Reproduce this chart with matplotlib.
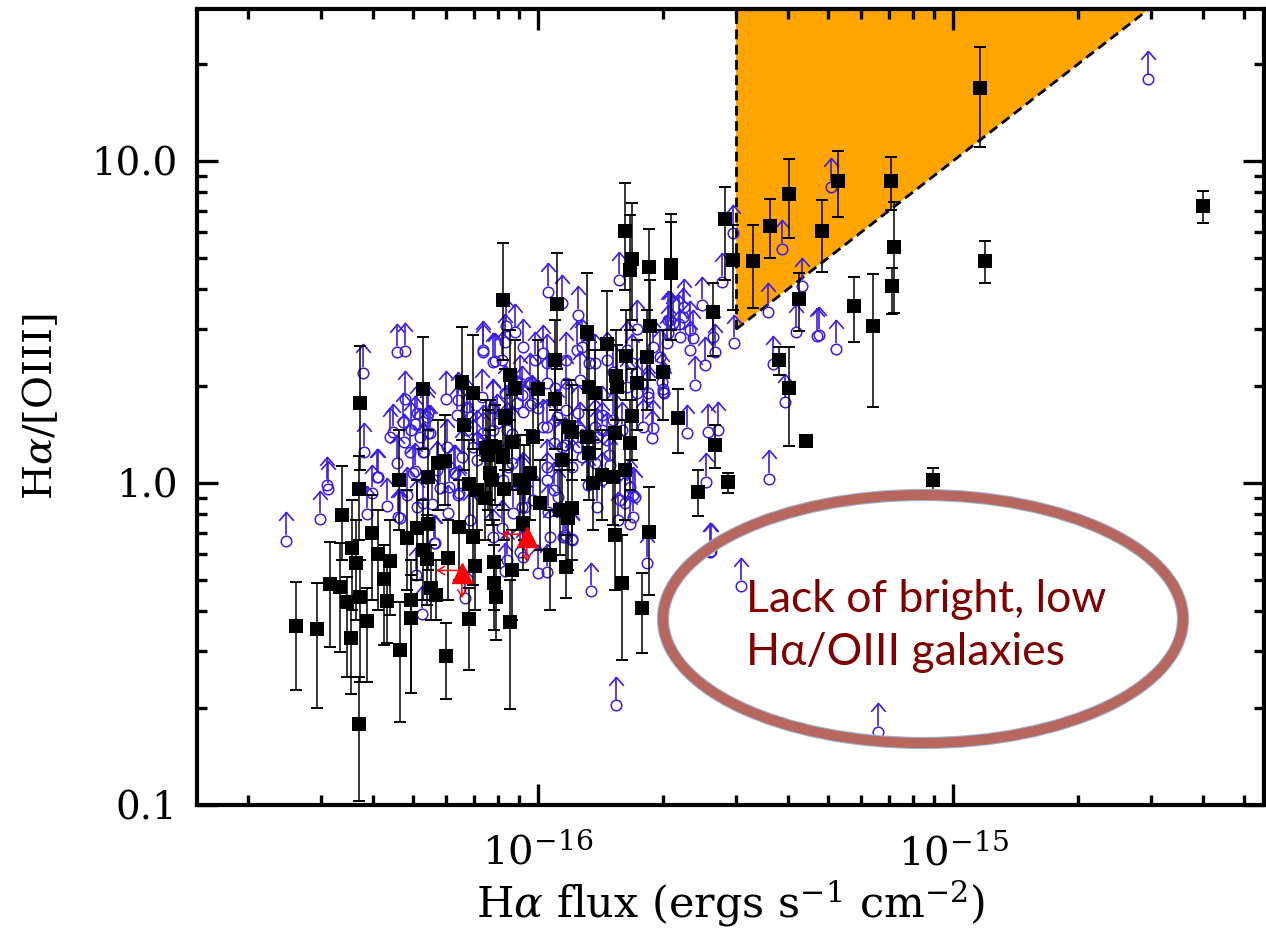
import numpy as np
import matplotlib
matplotlib.use("Agg")
import matplotlib.pyplot as plt
from matplotlib.path import Path
from matplotlib.patches import Ellipse
from matplotlib.ticker import FixedLocator, NullFormatter

plt.rcParams['font.family'] = ['DejaVu Serif']
plt.rcParams['mathtext.fontset'] = 'dejavuserif'

UNIT = 1e-16  # flux values below are in units of 1e-16 ergs/s/cm^2

# ---- detections (black squares with error bars) ----
sq_flux = [0.261, 0.293, 0.315, 0.333, 0.346, 0.373, 0.354, 0.371, 0.388, 0.399,
           0.356, 0.364, 0.412, 0.425, 0.433, 0.440, 0.465, 0.496, 0.494, 0.484,
           0.511, 0.528, 0.540, 0.552, 0.568, 0.600, 0.607, 0.645, 0.699, 0.684,
           0.706, 0.373, 0.371, 0.337, 0.528, 0.463, 0.543, 0.574, 0.597, 0.656,
           0.699, 0.663, 0.684, 0.543,
           0.824, 1.11, 1.31, 1.47, 1.62, 1.68, 1.67, 1.85, 2.09, 2.09,
           1.86, 1.63, 1.83, 2.00, 1.73, 1.10, 0.856, 0.880, 1.00, 1.33,
           1.37, 1.54, 1.55, 1.10, 0.833, 0.766, 0.788, 0.865, 0.973, 0.713,
           0.750, 0.758, 0.824, 0.766, 0.775, 0.829, 0.905, 0.956, 0.925, 1.01,
           1.14, 1.19, 1.21, 1.31, 1.33, 1.53, 1.67, 1.36, 1.43, 1.52,
           1.62, 1.13, 1.21, 1.18, 1.53, 1.85, 0.920, 2.17, 2.67, 2.87,
           2.43, 1.68, 1.07, 1.17, 0.783, 0.865, 0.783, 0.792, 1.59, 1.78,
           0.856, 0.745,
           2.64, 2.82, 2.95, 3.30, 3.62, 4.02, 4.83, 5.28, 7.10, 7.21,
           7.14, 4.25, 5.77, 6.42, 11.6, 11.9, 40.0, 3.81, 4.02, 4.42, 8.94]
sq_ratio = [0.360, 0.352, 0.486, 0.476, 0.427, 0.443, 0.331, 0.178, 0.372, 0.700,
            0.628, 0.565, 0.602, 0.503, 0.430, 0.573, 0.303, 0.433, 0.381, 0.675,
            0.725, 0.619, 0.581, 0.472, 0.449, 0.290, 0.585, 0.730, 0.680, 0.378,
            0.552, 1.77, 0.958, 0.796, 1.96, 1.02, 1.04, 1.15, 1.17, 2.06,
            1.90, 1.51, 0.993, 0.746,
            3.70, 3.60, 2.94, 2.70, 6.06, 4.97, 4.59, 4.69, 4.76, 4.49,
            3.07, 2.48, 2.46, 2.21, 2.04, 2.41, 2.16, 1.97, 1.96, 1.99,
            1.90, 2.15, 1.99, 1.82, 1.59, 1.29, 1.29, 1.34, 1.39, 0.951,
            1.28, 1.22, 1.20, 1.07, 1.02, 0.958, 1.02, 1.07, 0.965, 0.866,
            1.18, 1.49, 1.44, 1.39, 1.24, 1.43, 1.33, 1.00, 1.06, 1.04,
            1.10, 0.824, 0.837, 0.779, 0.690, 0.705, 0.751, 1.59, 1.31, 1.01,
            0.937, 1.61, 0.598, 0.549, 0.569, 0.537, 0.489, 0.443, 0.489, 0.409,
            0.370, 0.898,
            3.40, 6.61, 4.93, 4.89, 6.27, 7.90, 6.06, 8.66, 8.66, 5.41,
            4.09, 3.73, 3.54, 3.07, 16.8, 4.89, 7.25, 2.41, 1.97, 1.35, 1.02]
sq_hi = [0.493, 0.490, 0.656, 0.651, 0.511, 0.577, 0.433, 0.250, 0.472, 0.918,
         0.885, 0.767, 0.824, 0.642, 0.577, 0.767, 0.427, 0.577, 0.518, 0.951,
         1.02, 0.885, 0.795, 0.642, 0.577, 0.367, 0.767, 1.02, 0.951, 0.472,
         0.715, 2.66, 1.21, 1.13, 2.84, 1.46, 1.46, 1.57, 1.63, 3.05,
         2.88, 1.95, 1.36, 1.02,
         5.55, 5.17, 4.49, 3.94, 8.54, 7.41, 6.79, 6.15, 6.84, 6.46,
         4.27, 3.45, 3.45, 2.99, 2.78, 3.21, 2.99, 2.78, 2.78, 2.78,
         2.59, 2.99, 2.68, 2.41, 2.25, 1.81, 1.75, 1.88, 1.95, 1.27,
         1.81, 1.69, 1.69, 1.46, 1.36, 1.27, 1.41, 1.46, 1.31, 1.18,
         1.57, 2.09, 2.02, 1.95, 1.69, 1.95, 1.81, 1.36, 1.46, 1.46,
         1.57, 1.10, 1.18, 1.10, 1.02, 0.972, 1.02, 1.96, 1.51, 1.07,
         1.10, 2.25, 0.824, 0.690, 0.767, 0.715, 0.642, 0.577, 0.690, 0.525,
         0.500, 1.18,
         4.17, 8.32, 6.32, 6.32, 7.63, 10.1, 7.57, 10.7, 10.3, 7.45,
         4.66, 4.49, 4.36, 4.46, 22.6, 5.65, 8.07, 2.64, 2.64, 1.40, 1.11]
sq_lo = [0.228, 0.200, 0.310, 0.298, 0.250, 0.241, 0.221, 0.103, 0.241, 0.433,
         0.404, 0.375, 0.404, 0.314, 0.319, 0.389, 0.181, 0.223, 0.223, 0.466,
         0.500, 0.433, 0.418, 0.375, 0.375, 0.213, 0.433, 0.500, 0.483, 0.263,
         0.404, 1.10, 0.665, 0.577, 1.27, 0.715, 0.741, 0.824, 0.855, 1.36,
         1.27, 1.10, 0.715, 0.537,
         2.41, 2.25, 1.95, 1.81, 3.98, 3.21, 2.99, 3.21, 2.99, 2.78,
         2.09, 1.81, 1.69, 1.57, 1.46, 1.69, 1.57, 1.36, 1.36, 1.36,
         1.27, 1.57, 1.41, 1.27, 1.10, 0.885, 0.855, 0.951, 1.02, 0.715,
         0.885, 0.824, 0.824, 0.767, 0.741, 0.665, 0.715, 0.767, 0.665, 0.619,
         0.824, 1.10, 1.02, 1.02, 0.885, 1.02, 0.951, 0.715, 0.767, 0.741,
         0.767, 0.598, 0.577, 0.537, 0.466, 0.449, 0.537, 1.24, 1.11, 0.931,
         0.790, 1.18, 0.404, 0.440, 0.404, 0.375, 0.350, 0.326, 0.282, 0.296,
         0.199, 0.665,
         2.48, 4.27, 3.45, 3.50, 5.00, 5.77, 4.52, 6.70, 7.04, 3.37,
         3.35, 2.96, 2.74, 1.72, 11.0, 4.17, 6.42, 2.16, 1.30, 1.30, 0.931]

# ---- lower limits (blue open circles with upward arrows) ----
lim_flux = [0.247, 0.298, 0.310, 0.313, 0.379, 0.457, 0.478, 0.478, 0.381, 0.412,
            0.388, 0.433, 0.447, 0.457, 0.476, 0.465, 0.505, 0.519, 0.528, 0.540,
            0.600, 0.642, 0.674, 0.737, 0.627, 0.642, 0.581, 0.555, 0.505, 0.562,
            0.837, 0.880, 1.03, 1.25, 1.17, 1.73, 2.08, 2.06, 2.01, 1.79,
            1.89, 1.88, 0.733, 0.779, 0.819, 0.967, 1.00, 1.03, 0.543, 0.500,
            0.610, 0.645, 0.713, 0.779, 0.842, 0.865, 0.847, 1.05, 1.09, 1.14,
            1.21, 1.25, 1.39, 1.49, 1.67, 1.69, 1.58, 1.56, 1.69, 1.39, 1.15,
            1.06, 1.14, 1.57, 0.737, 0.788, 2.49, 2.78, 2.95, 2.25, 2.19,
            2.32, 2.36, 2.52, 2.67, 2.97, 3.58, 2.12, 1.99, 2.00, 1.84,
            2.39, 1.28, 1.37, 1.52, 1.68, 1.10, 0.956,
            2.29, 2.57, 2.71, 3.60, 2.54, 1.83, 1.67, 1.62, 1.34, 1.21,
            1.16, 1.05, 1.00, 0.833, 2.59, 3.09, 1.71, 1.28, 1.12, 1.06,
            0.914, 0.870, 0.819, 1.32, 1.48, 1.43, 1.26, 0.667, 1.54, 0.905,
            0.525, 0.508, 1.21, 6.59, 5.23, 3.68, 3.94, 4.70, 29.5, 5.08,
            3.87, 4.32, 4.18, 4.74, 2.61,
            0.473, 0.496, 0.549, 0.491, 0.532, 0.409, 0.399, 0.460, 0.484, 0.528,
            0.571, 0.603, 0.630, 0.699, 0.674, 0.737, 0.713, 0.779, 0.842, 0.890,
            0.914, 0.824, 0.865, 0.914, 0.930, 0.565, 0.440, 0.511, 0.543, 0.638,
            0.686, 0.737, 0.656, 0.607, 0.686, 0.511,
            0.779, 0.833, 0.920, 0.956, 1.05, 1.09, 1.16, 1.11, 1.17, 1.25,
            1.37, 1.43, 1.47, 1.52, 1.37, 1.43, 1.59, 1.73, 1.84, 2.00,
            1.78, 0.796, 0.920, 1.05, 0.973, 1.07, 1.17, 0.920, 0.779, 0.842,
            0.833, 0.920, 0.984, 1.05, 1.24, 1.33, 1.47, 1.64, 1.89, 2.04,
            2.20, 2.32, 2.06, 2.24, 2.64, 1.97, 1.05, 1.17, 0.905, 1.26, 1.64]
lim_ratio = [0.661, 0.773, 0.986, 0.958, 2.20, 2.55, 2.57, 1.82, 1.25, 1.04,
             0.801, 0.848, 1.44, 1.15, 1.34, 0.779, 1.52, 1.39, 1.25, 1.60,
             1.82, 1.81, 1.72, 2.55, 1.07, 0.918, 0.965, 0.860, 1.09, 0.651,
             3.07, 2.94, 2.53, 3.33, 2.41, 3.01, 3.21, 2.92, 1.90, 1.49,
             1.48, 1.38, 1.85, 2.38, 2.41, 1.77, 1.71, 1.49, 1.43, 1.07,
             0.972, 0.931, 1.38, 1.46, 1.46, 1.42, 1.12, 1.12, 0.951, 1.29,
             1.12, 1.29, 1.39, 1.14, 0.972, 0.918, 0.885, 0.767, 0.784, 0.842, 0.680,
             3.92, 3.62, 4.27, 2.59, 2.39, 3.57, 4.21, 5.97, 3.52, 3.12,
             2.99, 2.82, 2.32, 2.55, 2.72, 3.40, 3.14, 2.06, 1.92, 1.90,
             2.02, 2.64, 2.36, 2.21, 2.36, 1.97, 2.06,
             1.43, 1.44, 1.46, 1.03, 1.01, 0.565, 0.746, 0.866, 0.462, 0.670,
             0.690, 0.529, 0.525, 0.533, 0.611, 0.479, 0.905, 1.20, 0.905, 0.813,
             0.842, 0.807, 0.725, 0.986, 1.22, 1.46, 1.46, 0.440, 0.204, 0.610,
             0.392, 0.518, 0.665, 0.169, 2.61, 2.34, 1.78, 2.86, 17.9, 8.32,
             5.33, 4.09, 2.94, 2.88, 0.615,
             1.55, 1.46, 1.43, 1.25, 1.25, 1.04, 0.931, 0.784, 0.918, 0.866,
             1.10, 1.29, 1.07, 1.29, 1.46, 1.43, 1.18, 1.72, 1.65, 1.77,
             1.88, 1.02, 1.15, 1.00, 0.842, 0.651, 1.39, 1.65, 1.65, 1.63,
             1.60, 1.36, 1.20, 0.807, 0.767, 0.842,
             1.71, 1.90, 1.66, 1.74, 1.49, 1.33, 1.31, 1.60, 1.69, 1.65,
             1.49, 1.63, 1.36, 1.57, 1.15, 1.02, 1.46, 1.90, 1.85, 1.95,
             2.04, 1.54, 1.02, 1.02, 0.885, 0.680, 0.680, 0.589, 0.680, 0.577,
             2.74, 2.64, 2.41, 2.36, 2.59, 2.36, 2.41, 2.59, 2.64, 2.72,
             2.84, 2.59, 3.21, 3.28, 2.84, 2.46, 2.04, 2.04, 2.04, 2.09, 1.99]

# ---- upper limits in both quantities (red triangles) ----
tri_flux = [0.656, 0.94]
tri_ratio = [0.525, 0.68]

# selection region: Halpha flux > 3e-16 and [OIII] flux < 1e-16
flux_cut = 3e-16
oiii_limit = 1e-16

xlim = (1.51e-17, 5.6e-15)
ylim = (0.1, 29.6)

# ------------------------------------------------------------------
sq_flux = np.array(sq_flux) * UNIT
sq_ratio = np.array(sq_ratio)
sq_hi = np.array(sq_hi)
sq_lo = np.array(sq_lo)
lim_flux = np.array(lim_flux) * UNIT
lim_ratio = np.array(lim_ratio)
tri_flux = np.array(tri_flux) * UNIT
tri_ratio = np.array(tri_ratio)

BLUE = '#3a1ee6'

fig = plt.figure(figsize=(12.66, 9.32), dpi=100)
ax = fig.add_axes([0.1556, 0.1363, 0.9984 - 0.1556, 0.9903 - 0.1363])
ax.set_xscale('log')
ax.set_yscale('log')
ax.set_xlim(*xlim)
ax.set_ylim(*ylim)

# orange selection wedge
big = 1e3
ax.fill([flux_cut, flux_cut, big * oiii_limit],
        [flux_cut / oiii_limit, big, big], color='#ffa500', lw=0, zorder=1)
ax.plot([flux_cut, flux_cut], [flux_cut / oiii_limit, big], color='k',
        lw=2.0, dashes=(3.5, 2.0), zorder=2)
ax.plot([flux_cut, big * oiii_limit], [flux_cut / oiii_limit, big], color='k',
        lw=2.0, dashes=(3.5, 2.0), zorder=2)

# lower limits: circle + upward arrow
ARROW_DEX = 0.088
BASE_DEX = 0.017
y_tip = lim_ratio * 10 ** ARROW_DEX
y_base = lim_ratio * 10 ** BASE_DEX
ax.vlines(lim_flux, y_base, y_tip, color=BLUE, lw=1.2, zorder=3)
chevron = Path([(-7, -8), (0, 0), (7, -8)], [Path.MOVETO, Path.LINETO, Path.LINETO])
ax.plot(lim_flux, y_tip, ls='none', marker=chevron, ms=12, mfc='none',
        mec=BLUE, mew=1.2, zorder=3)
ax.plot(lim_flux, lim_ratio, ls='none', marker='o', ms=7.6, mfc='none',
        mec=BLUE, mew=1.1, zorder=3)

# detections
ax.errorbar(sq_flux, sq_ratio, yerr=[sq_ratio - sq_lo, sq_hi - sq_ratio],
            fmt='none', ecolor='k', elinewidth=1.1,
            capsize=4.5, capthick=1.4, zorder=4)
ax.plot(sq_flux, sq_ratio, ls='none', marker='s', ms=10.5, mew=0, color='k', zorder=4)

# red triangles with limit arrows
ax.plot(tri_flux, tri_ratio, ls='none', marker='^', color='red', ms=14, zorder=5)
for fx, ry in zip(tri_flux, tri_ratio):
    ax.annotate('', xy=(fx * 10 ** -0.062, ry * 10 ** 0.008), xytext=(fx, ry * 10 ** 0.008),
                arrowprops=dict(arrowstyle='->,head_length=0.5,head_width=0.3',
                                color='red', lw=1.1, shrinkA=0, shrinkB=0), zorder=5)
    ax.annotate('', xy=(fx, ry * 10 ** -0.078), xytext=(fx, ry),
                arrowprops=dict(arrowstyle='->,head_length=0.5,head_width=0.3',
                                color='red', lw=1.1, shrinkA=0, shrinkB=0), zorder=5)

# axes styling
for sp in ax.spines.values():
    sp.set_linewidth(3)
ax.yaxis.set_major_locator(FixedLocator([0.1, 1.0, 10.0]))
ax.set_yticklabels(['0.1', '1.0', '10.0'])
ax.yaxis.set_minor_locator(FixedLocator(
    [m * d for d in (0.1, 1.0, 10.0) for m in range(2, 10)]))
ax.yaxis.set_minor_formatter(NullFormatter())
ax.xaxis.set_major_locator(FixedLocator([1e-16, 1e-15]))
ax.set_xticklabels([r'$10^{-16}$', r'$10^{-15}$'])
ax.xaxis.set_minor_locator(FixedLocator(
    [m * d for d in (1e-17, 1e-16, 1e-15) for m in range(2, 10)]))
ax.xaxis.set_minor_formatter(NullFormatter())
ax.tick_params(which='both', direction='in', top=True, right=True)
ax.tick_params(which='major', length=15, width=2.4)
ax.tick_params(which='minor', length=7.5, width=2.4)
ax.tick_params(axis='y', which='major', labelsize=28, pad=14)
ax.tick_params(axis='x', which='major', labelsize=29, pad=20)

ax.set_ylabel(r'H$\alpha$/[OIII]', fontsize=29)
ax.yaxis.set_label_coords(-0.128, 0.5)
ax.set_xlabel(r'H$\alpha$ flux (ergs s$^{-1}$ cm$^{-2}$)', fontsize=31)
ax.xaxis.set_label_coords(0.5, -0.092)

# annotation ellipse
cx, cy, w, h = 923 / 1266, 1 - 619 / 932, 520 / 1266, 248 / 932
fig.add_artist(Ellipse((cx, cy), w, h, transform=fig.transFigure, fill=False,
                       ec='#9fb2d2', lw=8.8, zorder=10))
fig.add_artist(Ellipse((cx, cy), w, h, transform=fig.transFigure, fill=False,
                       ec='#b8675f', lw=7.2, zorder=11))
fig.text(746 / 1266, 1 - 612 / 932, 'Lack of bright, low', color='#800000',
         fontsize=32, family=['Lato', 'DejaVu Sans'], ha='left', va='baseline', zorder=12)
fig.text(746 / 1266, 1 - 665 / 932, 'H\u03b1/OIII galaxies', color='#800000',
         fontsize=32, family=['Lato', 'DejaVu Sans'], ha='left', va='baseline', zorder=12)

fig.savefig('out.png', dpi=100)
